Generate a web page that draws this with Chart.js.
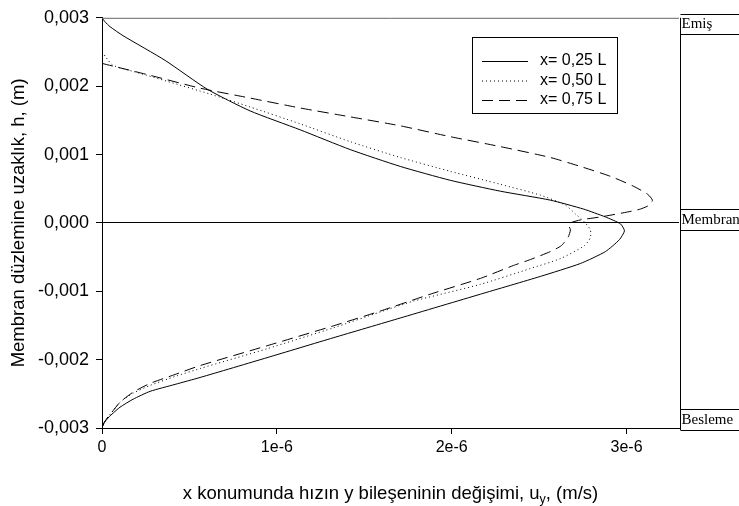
<!DOCTYPE html>
<html lang="tr">
<head>
<meta charset="UTF-8">
<title>Hız bileşeni u_y</title>
<script src="https://cdn.jsdelivr.net/npm/chart.js"></script>
<style>
  html, body { margin: 0; padding: 0; background: #fff; }
  #uyChart { display: block; }
</style>
</head>
<body>
<canvas id="uyChart" width="739" height="506"></canvas>
<script>
// u_y values in 1e-6 m/s, h values in mm
const u25 = [0, 0.017, 0.046, 0.120, 0.361, 0.601, 0.847, 1.133, 1.420, 1.706, 1.992, 2.278, 2.564, 2.753, 2.879, 2.965, 2.988, 2.959, 2.879, 2.736, 2.507, 2.164, 1.706, 1.322, 0.944, 0.561, 0.418, 0.275, 0.177, 0.103, 0.057, 0.029, 0.011, 0];
const h25 = [3.0, 2.942, 2.870, 2.739, 2.377, 1.957, 1.638, 1.362, 1.072, 0.826, 0.623, 0.464, 0.333, 0.203, 0.087, -0.014, -0.116, -0.246, -0.420, -0.594, -0.783, -1.043, -1.391, -1.681, -1.971, -2.261, -2.362, -2.464, -2.580, -2.696, -2.797, -2.870, -2.928, -3.0];

const u50 = [0, 0.023, 0.063, 0.218, 0.372, 0.618, 0.847, 1.133, 1.420, 1.706, 1.992, 2.278, 2.507, 2.650, 2.708, 2.759, 2.793, 2.793, 2.759, 2.622, 2.450, 2.164, 1.780, 1.591, 1.322, 0.944, 0.561, 0.418, 0.275, 0.177, 0.103, 0.057, 0.029, 0.011, 0];
const h50 = [2.507, 2.420, 2.304, 2.188, 2.072, 1.884, 1.696, 1.449, 1.188, 0.957, 0.754, 0.565, 0.406, 0.261, 0.130, 0.014, -0.101, -0.217, -0.333, -0.522, -0.667, -0.899, -1.145, -1.304, -1.536, -1.841, -2.130, -2.246, -2.377, -2.493, -2.623, -2.768, -2.855, -2.928, -3.0];

const u75 = [0, 0.275, 0.561, 0.847, 1.133, 1.420, 1.706, 1.992, 2.278, 2.564, 2.736, 2.908, 3.040, 3.120, 3.148, 3.131, 3.080, 3.005, 2.851, 2.736, 2.667, 2.679, 2.667, 2.627, 2.564, 2.450, 2.353, 2.164, 1.877, 1.591, 1.322, 0.944, 0.561, 0.418, 0.275, 0.177, 0.103, 0.057, 0.029, 0.011, 0];
const h75 = [2.333, 2.159, 1.971, 1.826, 1.681, 1.551, 1.420, 1.261, 1.116, 0.957, 0.826, 0.681, 0.536, 0.420, 0.333, 0.261, 0.203, 0.159, 0.087, 0.043, -0.014, -0.101, -0.203, -0.333, -0.420, -0.536, -0.623, -0.812, -1.043, -1.290, -1.507, -1.797, -2.087, -2.217, -2.348, -2.478, -2.623, -2.768, -2.855, -2.928, -3.0];

const seriesLabels = ['x= 0,25 L', 'x= 0,50 L', 'x= 0,75 L'];
const xTickValues = [0, 1e-6, 2e-6, 3e-6];
const xTickLabels = ['0', '1e-6', '2e-6', '3e-6'];
const yTickValues = [-0.003, -0.002, -0.001, 0, 0.001, 0.002, 0.003];
const zoneLabels = ['Emiş', 'Membran', 'Besleme'];

const SANS = "'Liberation Sans', Arial, sans-serif";
const SERIF = "'Liberation Serif', 'Times New Roman', serif";

function toPoints(us, hs) {
  return us.map((u, i) => ({ x: u * 1e-6, y: hs[i] * 1e-3 }));
}

const dashes = [[], [1, 3], [11, 6]];
const datasets = [[u25, h25], [u50, h50], [u75, h75]].map((s, i) => ({
  label: seriesLabels[i],
  data: toPoints(s[0], s[1]),
  showLine: true,
  borderColor: '#000',
  borderWidth: 1,
  borderDash: dashes[i],
  pointRadius: 0,
  tension: 0.2
}));

// frame, membrane zone boxes, legend and the x title with subscript
const decorations = {
  id: 'decorations',
  afterDraw(chart) {
    const { ctx, chartArea: a } = chart;
    const W = chart.width;
    ctx.save();
    ctx.lineWidth = 1;

    // top frame line
    ctx.strokeStyle = '#666';
    ctx.beginPath();
    ctx.moveTo(a.left, a.top + 0.5);
    ctx.lineTo(a.right, a.top + 0.5);
    ctx.stroke();

    // zone panel on the right
    ctx.strokeStyle = '#000';
    const px = a.right + 1.5;
    ctx.beginPath();
    ctx.moveTo(px, a.top);
    ctx.lineTo(px, a.bottom + 2);
    [14, 34, 209, 230, 409, 430].forEach(y => {
      ctx.moveTo(px, y + 0.5);
      ctx.lineTo(W, y + 0.5);
    });
    ctx.stroke();
    ctx.fillStyle = '#000';
    ctx.font = '15px ' + SERIF;
    ctx.textBaseline = 'middle';
    ctx.textAlign = 'left';
    ctx.fillText(zoneLabels[0], px + 1, 24);
    ctx.fillText(zoneLabels[1], px + 1, 220);
    ctx.fillText(zoneLabels[2], px + 1, 420);

    // legend
    ctx.strokeStyle = '#000';
    ctx.strokeRect(472.5, 37.5, 145, 76);
    ctx.font = '16px ' + SANS;
    chart.data.datasets.forEach((ds, i) => {
      const y = 61 + i * 19.5;
      ctx.setLineDash(ds.borderDash);
      ctx.beginPath();
      ctx.moveTo(482, y + 0.5);
      ctx.lineTo(528, y + 0.5);
      ctx.stroke();
      ctx.setLineDash([]);
      ctx.fillText(ds.label, 540, y);
    });

    // x axis title: u with subscript y
    const main = 'x konumunda hızın y bileşeninin değişimi, u';
    const sub = 'y';
    const tail = ', (m/s)';
    const big = '18.5px ' + SANS;
    const small = '12.5px ' + SANS;
    ctx.font = big;
    const w1 = ctx.measureText(main).width;
    const w3 = ctx.measureText(tail).width;
    ctx.font = small;
    const w2 = ctx.measureText(sub).width;
    let x = (a.left + a.right) / 2 - (w1 + w2 + w3) / 2;
    const base = 499;
    ctx.textBaseline = 'alphabetic';
    ctx.font = big;
    ctx.fillText(main, x, base);
    x += w1;
    ctx.font = small;
    ctx.fillText(sub, x, base + 4);
    x += w2;
    ctx.font = big;
    ctx.fillText(tail, x, base);
    ctx.restore();
  }
};

new Chart(document.getElementById('uyChart'), {
  type: 'scatter',
  data: { datasets },
  options: {
    responsive: false,
    animation: false,
    layout: { padding: { left: 0, right: 60, top: 14, bottom: 0 } },
    plugins: { legend: { display: false }, tooltip: { enabled: false } },
    scales: {
      x: {
        type: 'linear',
        min: 0,
        max: 3.3e-6,
        afterFit(scale) { scale.height = 78; },
        afterBuildTicks(scale) { scale.ticks = xTickValues.map(v => ({ value: v })); },
        border: { color: '#000', width: 1 },
        grid: { drawOnChartArea: false, drawTicks: true, tickLength: 6, tickColor: '#000' },
        ticks: {
          color: '#000',
          padding: 4,
          maxRotation: 0,
          font: { family: SANS, size: 16 },
          callback: (v, i) => xTickLabels[i]
        }
      },
      y: {
        type: 'linear',
        min: -0.003,
        max: 0.003,
        afterFit(scale) { scale.width = 102; },
        afterBuildTicks(scale) { scale.ticks = yTickValues.map(v => ({ value: v })); },
        border: { color: '#000', width: 1 },
        grid: {
          drawTicks: true,
          tickLength: 6,
          tickColor: '#000',
          color: c => (c.tick && c.tick.value === 0 ? '#000' : 'rgba(0,0,0,0)')
        },
        title: {
          display: true,
          text: 'Membran düzlemine uzaklık, h, (m)',
          color: '#000',
          font: { family: SANS, size: 18.5 },
          padding: { top: 8, bottom: 0 }
        },
        ticks: {
          color: '#000',
          padding: 7,
          font: { family: SANS, size: 18 },
          callback: v => v.toFixed(3).replace('.', ',')
        }
      }
    }
  },
  plugins: [decorations]
});
</script>
</body>
</html>
